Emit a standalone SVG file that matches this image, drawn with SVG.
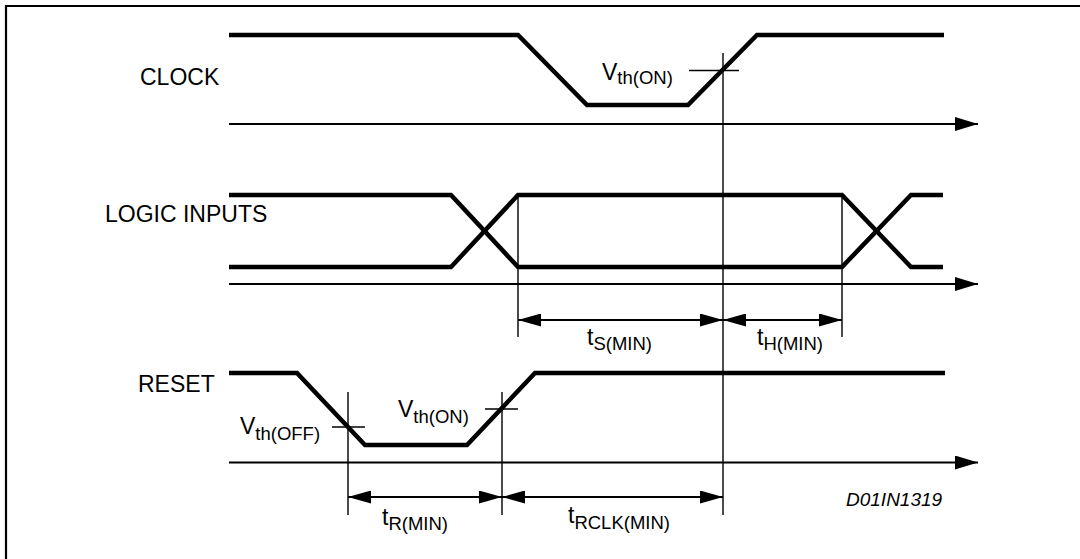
<svg xmlns="http://www.w3.org/2000/svg" width="1080" height="559" viewBox="0 0 1080 559">
<style>
.sig{fill:none;stroke:#000;stroke-width:4.5;stroke-linejoin:miter}
.ax{fill:none;stroke:#000;stroke-width:2}
.thin{fill:none;stroke:#000;stroke-width:1.4}
.dim{fill:none;stroke:#000;stroke-width:2.2}
.lbl{font-family:"Liberation Sans",Arial,sans-serif;font-size:23px;fill:#000}
.sub{font-size:18.5px}
.id{font-family:"Liberation Sans",Arial,sans-serif;font-size:19px;font-style:italic;fill:#000}
</style>
<defs>
<marker id="ah" viewBox="0 0 23 14" refX="23" refY="7" markerWidth="23" markerHeight="14" markerUnits="userSpaceOnUse" orient="auto-start-reverse"><path d="M0,0 L23,7 L0,14 Z" fill="#000"/></marker>
<marker id="dh" viewBox="0 0 23 13" refX="23" refY="6.5" markerWidth="23" markerHeight="13" markerUnits="userSpaceOnUse" orient="auto-start-reverse"><path d="M0,0 L23,6.5 L0,13 Z" fill="#000"/></marker>
</defs>
<rect width="1080" height="559" fill="#fff"/>
<path d="M6,570 V6 H1090" fill="none" stroke="#000" stroke-width="2.2"/>

<g id="clock">
<text class="lbl" x="140" y="85">CLOCK</text>
<path class="sig" d="M229,35 H518 L587,105 H688 L757,35 H944"/>
<path class="ax" d="M229,124 H978" marker-end="url(#ah)"/>
<path class="thin" d="M689,70.5 H739"/>
<text class="lbl" x="602" y="80">V<tspan class="sub" dy="4">th(ON)</tspan></text>
</g>

<g id="logic-inputs">
<text class="lbl" x="105" y="222">LOGIC INPUTS</text>
<path class="sig" d="M229,195 H451 L518,267 H842 L911,195 H943"/>
<path class="sig" d="M229,267 H451 L518,195 H842 L911,267 H943"/>
<path class="ax" d="M229,284 H978" marker-end="url(#ah)"/>
<path class="thin" d="M518,195 V337 M842,195 V337"/>
</g>

<g id="reset">
<text class="lbl" x="138" y="392">RESET</text>
<path class="sig" d="M229,373 H297 L365,445 H467 L535,373 H945"/>
<path class="ax" d="M229,462.5 H978" marker-end="url(#ah)"/>
<path class="thin" d="M348,392 V515 M332,427 H365 M502,392 V515 M485,409 H518"/>
<text class="lbl" x="240" y="434">V<tspan class="sub" dy="6">th(OFF)</tspan></text>
<text class="lbl" x="398" y="417">V<tspan class="sub" dy="6">th(ON)</tspan></text>
</g>

<g id="connectors">
<path class="thin" stroke-width="1.8" d="M723,53 V515"/>
<path class="dim" d="M518,320 H723" marker-start="url(#dh)" marker-end="url(#dh)"/>
<path class="dim" d="M723,320 H842" marker-start="url(#dh)" marker-end="url(#dh)"/>
<path class="dim" d="M348,497 H502" marker-start="url(#dh)" marker-end="url(#dh)"/>
<path class="dim" d="M502,497 H723" marker-start="url(#dh)" marker-end="url(#dh)"/>
</g>

<g id="labels">
<text class="lbl" x="587" y="345">t<tspan class="sub" dy="5">S(MIN)</tspan></text>
<text class="lbl" x="757" y="345">t<tspan class="sub" dy="5">H(MIN)</tspan></text>
<text class="lbl" x="382" y="525">t<tspan class="sub" dy="5">R(MIN)</tspan></text>
<text class="lbl" x="568" y="523">t<tspan class="sub" dy="6">RCLK(MIN)</tspan></text>
<text class="id" x="846" y="506">D01IN1319</text>
</g>
</svg>
